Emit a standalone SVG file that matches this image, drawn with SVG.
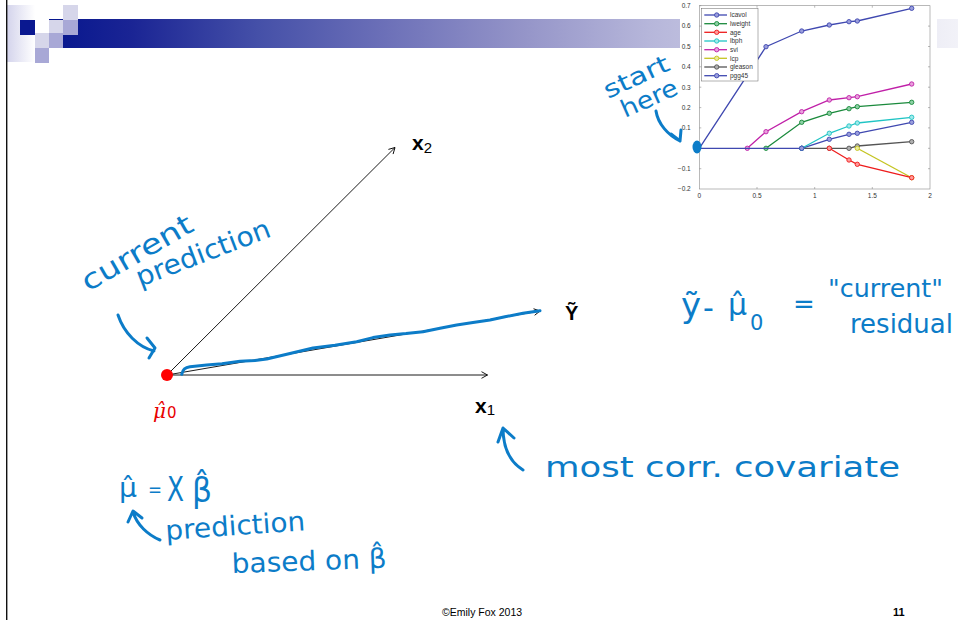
<svg xmlns="http://www.w3.org/2000/svg" width="958" height="620" viewBox="0 0 958 620">
<style>
.hand{fill:#0c7cc8;font-family:"DejaVu Sans","Liberation Sans",sans-serif;}
.hs{fill:none;stroke:#0c7cc8;stroke-width:3;stroke-linecap:round;stroke-linejoin:round;}
.ax{fill:none;stroke:#000;stroke-width:0.9;}
.lbl{font-family:"Liberation Sans",Arial,sans-serif;fill:#000;}
.tk{font-family:"Liberation Sans",Arial,sans-serif;font-size:6.5px;fill:#333;}
.ser{fill:none;stroke-width:1.3;}
.frm{fill:none;stroke:#8a8a8a;stroke-width:0.6;}
.sq-d{fill:#0a1890;}
.sq-l{fill:#d6d6ea;}
.sq-m{fill:#a8a8d6;}
</style>
<defs>
<linearGradient id="bar" x1="49" y1="0" x2="958" y2="0" gradientUnits="userSpaceOnUse">
<stop offset="0" stop-color="#06168e"/>
<stop offset="0.09" stop-color="#1a2494"/>
<stop offset="0.23" stop-color="#4550a8"/>
<stop offset="0.37" stop-color="#6c70b8"/>
<stop offset="0.52" stop-color="#9494c8"/>
<stop offset="0.66" stop-color="#b6b6da"/>
<stop offset="1" stop-color="#f2f2f8"/>
</linearGradient>
<linearGradient id="fade" x1="0" y1="0" x2="1" y2="0">
<stop offset="0" stop-color="#d4d4ec"/>
<stop offset="1" stop-color="#ffffff"/>
</linearGradient>
<marker id="ah" viewBox="-7 -4 8 8" markerWidth="8" markerHeight="8" markerUnits="userSpaceOnUse" orient="auto" refX="0" refY="0">
<path d="M-6,-3.3 L0,0 L-6,3.3" fill="none" stroke="#000" stroke-width="0.9"/>
</marker>
<marker id="mb" viewBox="-3 -3 6 6" markerWidth="6" markerHeight="6" markerUnits="userSpaceOnUse"><circle r="2.2" fill="#9a9edc" stroke="#3f48b0" stroke-width="0.9"/></marker>
<marker id="mg" viewBox="-3 -3 6 6" markerWidth="6" markerHeight="6" markerUnits="userSpaceOnUse"><circle r="2.2" fill="#8cd0a4" stroke="#1a8a3c" stroke-width="0.9"/></marker>
<marker id="mr" viewBox="-3 -3 6 6" markerWidth="6" markerHeight="6" markerUnits="userSpaceOnUse"><circle r="2.2" fill="#ff9a9a" stroke="#ee1c1c" stroke-width="0.9"/></marker>
<marker id="mc" viewBox="-3 -3 6 6" markerWidth="6" markerHeight="6" markerUnits="userSpaceOnUse"><circle r="2.2" fill="#a0eaea" stroke="#20c4c4" stroke-width="0.9"/></marker>
<marker id="mm" viewBox="-3 -3 6 6" markerWidth="6" markerHeight="6" markerUnits="userSpaceOnUse"><circle r="2.2" fill="#e8a0dc" stroke="#c020a8" stroke-width="0.9"/></marker>
<marker id="my" viewBox="-3 -3 6 6" markerWidth="6" markerHeight="6" markerUnits="userSpaceOnUse"><circle r="2.2" fill="#ecec9a" stroke="#c4c420" stroke-width="0.9"/></marker>
<marker id="mk" viewBox="-3 -3 6 6" markerWidth="6" markerHeight="6" markerUnits="userSpaceOnUse"><circle r="2.2" fill="#b0b0b0" stroke="#555555" stroke-width="0.9"/></marker>
</defs>
<rect width="958" height="620" fill="#ffffff"/>

<g id="title-bar">
<rect x="7" y="5" width="28" height="57" fill="url(#fade)"/>
<rect x="49" y="19" width="909" height="29" fill="url(#bar)"/>
<rect class="sq-d" x="20" y="20" width="15" height="15"/>
<rect class="sq-l" x="35" y="33" width="14" height="15"/>
<rect class="sq-m" x="35" y="48" width="14" height="15"/>
<rect class="sq-l" x="49" y="20" width="14" height="13"/>
<rect class="sq-m" x="49" y="33" width="14" height="15"/>
<rect class="sq-l" x="63" y="5" width="15" height="15"/>
<rect class="sq-m" x="63" y="20" width="15" height="15"/>
<line x1="6.7" y1="0" x2="6.7" y2="620" stroke="#111" stroke-width="1.4"/>
</g>

<g id="lar-chart">
<rect x="680" y="0" width="257" height="202" fill="#ffffff"/>
<rect class="frm" x="699.3" y="5.7" width="230.7" height="183.3"/>
<g stroke="#8a8a8a" stroke-width="0.6">
<path d="M699.3,5.7h2M699.3,26.1h2M699.3,46.5h2M699.3,66.8h2M699.3,87.2h2M699.3,107.6h2M699.3,127.9h2M699.3,148.3h2M699.3,168.7h2"/>
<path d="M930,26.1h-2M930,46.5h-2M930,66.8h-2M930,87.2h-2M930,107.6h-2M930,127.9h-2M930,148.3h-2M930,168.7h-2"/>
<path d="M757,189v-2M814.7,189v-2M872.3,189v-2M757,5.7v2M814.7,5.7v2M872.3,5.7v2"/>
</g>
<g class="tk" text-anchor="end">
<text x="690.7" y="8">0.7</text>
<text x="690.7" y="28.4">0.6</text>
<text x="690.7" y="48.8">0.5</text>
<text x="690.7" y="69.1">0.4</text>
<text x="690.7" y="89.5">0.3</text>
<text x="690.7" y="109.9">0.2</text>
<text x="690.7" y="130.2">0.1</text>
<text x="690.7" y="171">−0.1</text>
<text x="690.7" y="191.3">−0.2</text>
</g>
<g class="tk" text-anchor="middle">
<text x="699.3" y="197.5">0</text>
<text x="757" y="197.5">0.5</text>
<text x="814.7" y="197.5">1</text>
<text x="872.3" y="197.5">1.5</text>
<text x="930" y="197.5">2</text>
</g>
<path class="ser" stroke="#555555" marker-start="url(#mk)" marker-mid="url(#mk)" marker-end="url(#mk)" d="M801.7,148.3 L829.3,148.3 L849,148.3 L857.3,146 L911.7,141.7"/>
<path class="ser" stroke="#c4c420" marker-start="url(#my)" marker-end="url(#my)" d="M857.3,148.3 L911.7,177.7"/>
<path class="ser" stroke="#ee1c1c" marker-start="url(#mr)" marker-mid="url(#mr)" marker-end="url(#mr)" d="M829.3,148.3 L849,160 L857.3,164.3 L911.7,177.7"/>
<path class="ser" stroke="#3f48b0" marker-start="url(#mb)" marker-mid="url(#mb)" marker-end="url(#mb)" d="M801.7,148.3 L829.3,139.3 L849,134.3 L857.3,133.3 L911.7,122.3"/>
<path class="ser" stroke="#20c4c4" marker-start="url(#mc)" marker-mid="url(#mc)" marker-end="url(#mc)" d="M801.7,148.3 L829.3,133.3 L849,126 L857.3,123 L911.7,117.3"/>
<path class="ser" stroke="#1a8a3c" marker-start="url(#mg)" marker-mid="url(#mg)" marker-end="url(#mg)" d="M766,148.3 L801.7,122.3 L829.3,113.3 L849,108.7 L857.3,106.7 L911.7,102.3"/>
<path class="ser" stroke="#c020a8" marker-start="url(#mm)" marker-mid="url(#mm)" marker-end="url(#mm)" d="M747.3,148.3 L766,131.7 L801.7,111.7 L829.3,100 L849,97.7 L857.3,96.7 L911.7,84"/>
<path class="ser" stroke="#3f48b0" marker-mid="url(#mb)" marker-end="url(#mb)" d="M699.3,148.3 L766,46.7 L801.7,31 L829.3,25 L849,21.7 L857.3,21 L911.7,8.3"/>
<path class="ser" stroke="#3f48b0" marker-end="url(#mb)" d="M699.3,148.3 L801.7,148.3"/>
<g id="legend">
<rect x="701.7" y="8.3" width="56.3" height="72.7" fill="#ffffff" stroke="#666" stroke-width="0.5"/>
<path class="ser" stroke="#3f48b0" marker-mid="url(#mb)" d="M704.3,15 L716.7,15 L727,15"/>
<path class="ser" stroke="#1a8a3c" marker-mid="url(#mg)" d="M704.3,23.7 L716.7,23.7 L727,23.7"/>
<path class="ser" stroke="#ee1c1c" marker-mid="url(#mr)" d="M704.3,32.3 L716.7,32.3 L727,32.3"/>
<path class="ser" stroke="#20c4c4" marker-mid="url(#mc)" d="M704.3,41 L716.7,41 L727,41"/>
<path class="ser" stroke="#c020a8" marker-mid="url(#mm)" d="M704.3,49.7 L716.7,49.7 L727,49.7"/>
<path class="ser" stroke="#c4c420" marker-mid="url(#my)" d="M704.3,58.3 L716.7,58.3 L727,58.3"/>
<path class="ser" stroke="#555555" marker-mid="url(#mk)" d="M704.3,67 L716.7,67 L727,67"/>
<path class="ser" stroke="#3f48b0" marker-mid="url(#mb)" d="M704.3,75.7 L716.7,75.7 L727,75.7"/>
<g class="tk" font-size="6.3">
<text x="730" y="17.2">lcavol</text>
<text x="730" y="25.9">lweight</text>
<text x="730" y="34.5">age</text>
<text x="730" y="43.2">lbph</text>
<text x="730" y="51.9">svi</text>
<text x="730" y="60.5">lcp</text>
<text x="730" y="69.2">gleason</text>
<text x="730" y="77.9">pgg45</text>
</g>
</g>
</g>

<g id="connectors">
<line class="ax" x1="167" y1="375" x2="487.5" y2="375" marker-end="url(#ah)"/>
<line class="ax" x1="167" y1="375" x2="395" y2="147.5" marker-end="url(#ah)"/>
<line class="ax" x1="167" y1="375" x2="540" y2="311" marker-end="url(#ah)"/>
</g>

<g id="node-x1"><text class="lbl" x="475" y="413" font-size="21" font-weight="bold">x<tspan font-size="15" font-weight="normal" dy="2">1</tspan></text></g>
<g id="node-x2"><text class="lbl" x="412" y="149.5" font-size="21" font-weight="bold">x<tspan font-size="15" font-weight="normal" dy="3">2</tspan></text></g>
<g id="node-y"><text class="lbl" x="565" y="320" font-size="20" font-weight="bold">Ỹ</text></g>
<g id="node-mu0">
<circle cx="167" cy="375" r="6" fill="#ff0000"/>
<text x="153" y="418" font-family="'DejaVu Serif',serif" font-style="italic" font-size="20" fill="#e80000">μ̂<tspan font-family="'DejaVu Sans',sans-serif" font-style="normal" font-size="15" dx="1">0</tspan></text>
</g>

<g id="annotations">
<path class="hs" d="M181.7,374.3 C183,369 185,367.5 190,366.8 L206.7,365 L222,363.8 L240,361.3 L255,360.6 L266.7,359 L290,353.5 L313,348 L335,345.2 L356.7,341.7 L373,337.6 L390,335 L406,333.6 L423,331.7 L440,328.2 L456.7,325 L473,322.6 L490,320 L505,316.8 L523,313.3 L540,310.7"/>
<ellipse cx="697" cy="147" rx="4.5" ry="6.5" fill="#0c7cc8"/>
<text class="hand" font-size="24" transform="translate(608,99) rotate(-25)" textLength="70" lengthAdjust="spacingAndGlyphs">start</text>
<text class="hand" font-size="24" transform="translate(625,118) rotate(-24)" textLength="60" lengthAdjust="spacingAndGlyphs">here</text>
<path class="hs" d="M656,111 C658,124 668,135 680,141 M671,134 L680,141 L681,130"/>
<text class="hand" font-size="28" transform="translate(88,292) rotate(-30)" textLength="124" lengthAdjust="spacingAndGlyphs">current</text>
<text class="hand" font-size="27" transform="translate(140,287) rotate(-21)" textLength="142" lengthAdjust="spacingAndGlyphs">prediction</text>
<path class="hs" d="M118,315 C124,333 138,347 154,351 M147,338 L155,348 L149,358"/>
<text class="hand" x="681" y="317" font-size="34">ỹ</text>
<text class="hand" x="703" y="318" font-size="30">-</text>
<text class="hand" x="728" y="315" font-size="30">μ̂</text>
<text class="hand" x="750" y="330" font-size="21">0</text>
<text class="hand" x="793" y="313" font-size="26">=</text>
<text class="hand" x="828" y="297" font-size="25" textLength="115" lengthAdjust="spacingAndGlyphs">"current"</text>
<text class="hand" x="850" y="333" font-size="26" textLength="103" lengthAdjust="spacingAndGlyphs">residual</text>
<text class="hand" x="119" y="497" font-size="27" textLength="18" lengthAdjust="spacingAndGlyphs">μ̂</text>
<text class="hand" x="148" y="496" font-size="19" textLength="14" lengthAdjust="spacingAndGlyphs">=</text>
<text class="hand" x="167" y="501" font-size="34" textLength="17" lengthAdjust="spacingAndGlyphs">X</text>
<text class="hand" x="192" y="502" font-size="34" textLength="20" lengthAdjust="spacingAndGlyphs">β̂</text>
<path class="hs" d="M160,540 C148,535 137,525 133,512 M128,522 L133,511 L142,518"/>
<text class="hand" font-size="27" transform="translate(166,540) rotate(-4)" textLength="140" lengthAdjust="spacingAndGlyphs">prediction</text>
<text class="hand" font-size="27" transform="translate(232,573) rotate(-2)" textLength="155" lengthAdjust="spacingAndGlyphs">based on β̂</text>
<path class="hs" d="M523,470 C510,462 503,448 503,428 M498,442 L503,428 L514,438"/>
<text class="hand" x="545" y="477" font-size="29" textLength="355" lengthAdjust="spacingAndGlyphs">most corr. covariate</text>
</g>

<g id="footer">
<text x="442" y="616" font-family="'Liberation Sans',Arial,sans-serif" font-size="10.5" fill="#000">©Emily Fox 2013</text>
<text x="893" y="616" font-family="'Liberation Sans',Arial,sans-serif" font-size="11" font-weight="bold" fill="#000">11</text>
</g>
</svg>
